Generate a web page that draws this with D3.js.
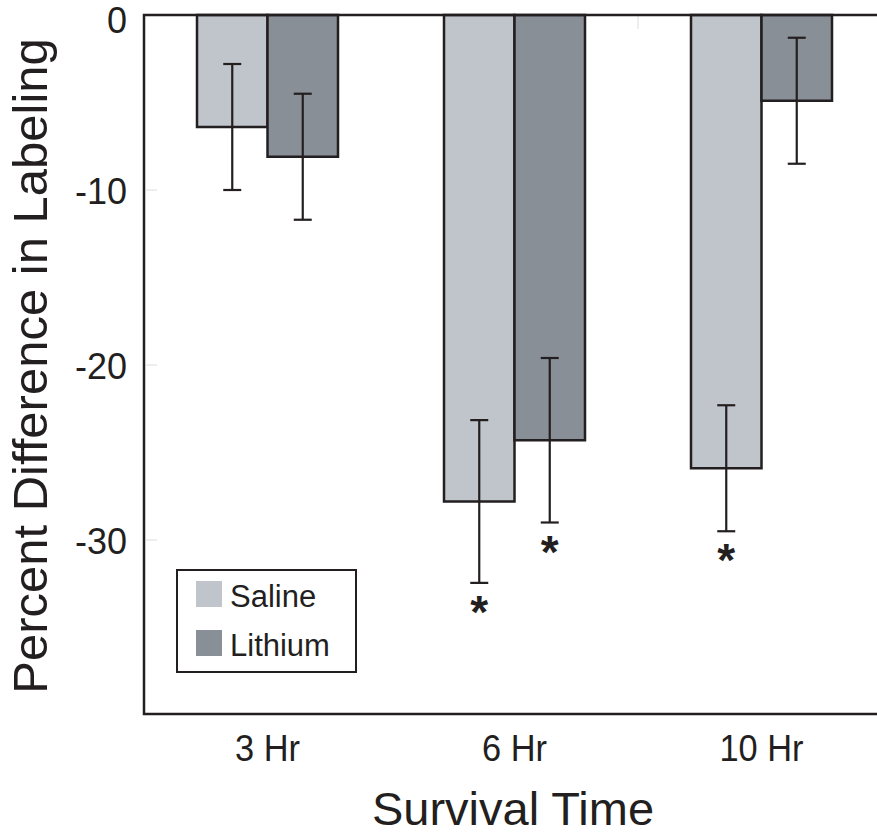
<!DOCTYPE html>
<html><head><meta charset="utf-8">
<script src="https://cdn.jsdelivr.net/npm/d3@7"></script>
<style>body{margin:0;background:#fff}svg{display:block;font-family:"Liberation Sans",Arial,sans-serif}</style>
</head><body><svg id="c" width="877" height="835"></svg>
<script>
const categories = ["3 Hr", "6 Hr", "10 Hr"];
const seriesNames = ["Saline", "Lithium"];
const salineValues = [-6.4, -27.8, -25.9];
const salineErrors = [3.6, 4.65, 3.6];
const lithiumValues = [-8.1, -24.3, -4.9];
const lithiumErrors = [3.6, 4.7, 3.6];
const significant = [[false, false], [true, true], [true, false]];
const yTicks = [0, -10, -20, -30];
const colors = ["#c0c4cb", "#898f97"];

const svg = d3.select("#c");
const mLeft = 144, mTop = 15, mRight = 885, mBottom = 715;
const x = d3.scaleBand().domain(categories).range([mLeft, mRight]).paddingInner(0).paddingOuter(0);
const inner = d3.scaleBand().domain(seriesNames).range([x.bandwidth()/2 - 70.5, x.bandwidth()/2 + 70.5]);
const y = d3.scaleLinear().domain([-40, 0]).range([mBottom, mTop]);

const data = [];
categories.forEach((c, i) => {
  data.push({cat: c, s: "Saline", v: salineValues[i], e: salineErrors[i], sig: significant[i][0]});
  data.push({cat: c, s: "Lithium", v: lithiumValues[i], e: lithiumErrors[i], sig: significant[i][1]});
});
const color = d3.scaleOrdinal().domain(seriesNames).range(colors);

// faint ticks
svg.append("g").selectAll("line").data(yTicks.filter(t => t !== 0)).join("line")
  .attr("x1", mLeft + 2).attr("x2", mLeft + 13).attr("y1", d => y(d)).attr("y2", d => y(d))
  .attr("stroke", "#dcdcdc").attr("stroke-width", 1);
svg.append("line").attr("x1", x("6 Hr") + x.bandwidth()).attr("x2", x("6 Hr") + x.bandwidth())
  .attr("y1", mTop).attr("y2", mTop + 14).attr("stroke", "#dcdcdc");

// bars
svg.append("g").selectAll("rect").data(data).join("rect")
  .attr("x", d => x(d.cat) + inner(d.s))
  .attr("y", y(0))
  .attr("width", inner.bandwidth())
  .attr("height", d => y(d.v) - y(0))
  .attr("fill", d => color(d.s))
  .attr("stroke", "#231f20").attr("stroke-width", 2.5);

// error bars
const eg = svg.append("g").attr("stroke", "#231f20").attr("stroke-width", 2.2);
data.forEach(d => {
  const cx = x(d.cat) + inner(d.s) + inner.bandwidth()/2;
  eg.append("line").attr("x1", cx).attr("x2", cx).attr("y1", y(d.v + d.e)).attr("y2", y(d.v - d.e));
  [d.v + d.e, d.v - d.e].forEach(v => eg.append("line").attr("x1", cx - 9).attr("x2", cx + 9).attr("y1", y(v)).attr("y2", y(v)));
  if (d.sig) {
    svg.append("text").attr("x", cx).attr("y", y(d.v - d.e) + 45).attr("text-anchor", "middle")
      .attr("font-size", 46).attr("font-weight", "bold").attr("fill", "#231f20").text("*");
  }
});

// frame
svg.append("rect").attr("x", mLeft).attr("y", mTop).attr("width", mRight - mLeft).attr("height", mBottom - 1 - mTop)
  .attr("fill", "none").attr("stroke", "#231f20").attr("stroke-width", 2.5);

// y tick labels
svg.append("g").selectAll("text").data(yTicks).join("text")
  .attr("x", 127).attr("y", d => Math.max(y(d), 19)).attr("dy", "0.38em").attr("text-anchor", "end")
  .attr("font-size", 36).attr("fill", "#231f20").text(d => d);

// x labels
svg.append("g").selectAll("text").data(categories).join("text")
  .attr("x", d => x(d) + x.bandwidth()/2).attr("y", 761).attr("text-anchor", "middle")
  .attr("font-size", 37).attr("fill", "#231f20")
  .attr("transform", d => { const cx = x(d) + x.bandwidth()/2; return `translate(${cx},0) scale(0.93,1) translate(${-cx},0)`; })
  .text(d => d);

svg.append("text").attr("x", 513).attr("y", 825).attr("text-anchor", "middle")
  .attr("font-size", 47).attr("fill", "#231f20").text("Survival Time");
svg.append("text").attr("transform", "translate(47,366) rotate(-90)").attr("text-anchor", "middle")
  .attr("font-size", 49).attr("fill", "#231f20").text("Percent Difference in Labeling");

// legend
const lg = svg.append("g");
lg.append("rect").attr("x", 177).attr("y", 570).attr("width", 179).attr("height", 102)
  .attr("fill", "#fff").attr("stroke", "#231f20").attr("stroke-width", 2);
seriesNames.forEach((s, i) => {
  lg.append("rect").attr("x", 196).attr("y", 581 + i * 49).attr("width", 26).attr("height", 26).attr("fill", colors[i]);
  lg.append("text").attr("x", 230).attr("y", 607 + i * 49).attr("font-size", 31).attr("fill", "#231f20").text(s);
});
</script></body></html>
